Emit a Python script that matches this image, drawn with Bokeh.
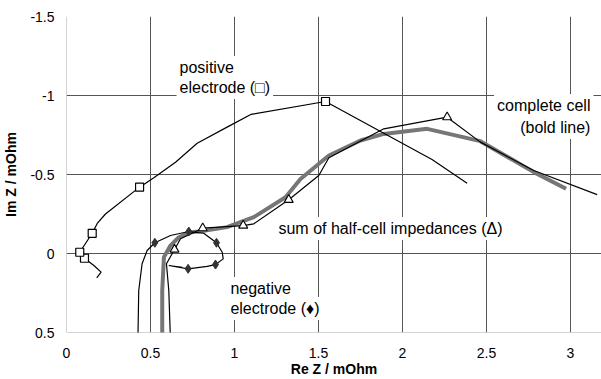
from bokeh.plotting import figure
from bokeh.models import Range1d, FixedTicker, Label, Span
from bokeh.embed import file_html
from bokeh.resources import INLINE

# ---- data ----
x_ticks = [0, 0.5, 1, 1.5, 2, 2.5, 3]
x_tick_labels = ["0", "0.5", "1", "1.5", "2", "2.5", "3"]
y_ticks = [-1.5, -1, -0.5, 0, 0.5]
y_tick_labels = ["-1.5", "-1", "-0.5", "0", "0.5"]

pos_x = [0.18, 0.206, 0.163, 0.107, 0.079, 0.153, 0.183, 0.232, 0.435, 0.52, 0.649, 0.778, 0.956, 1.097, 1.542, 2.176, 2.385]
pos_y = [0.154, 0.118, 0.076, 0.03, -0.008, -0.128, -0.19, -0.25, -0.42, -0.48, -0.578, -0.698, -0.80, -0.88, -0.962, -0.595, -0.445]
pos_mx = [0.107, 0.079, 0.153, 0.435, 1.542]
pos_my = [0.03, -0.008, -0.128, -0.42, -0.962]

neg_x = [0.425, 0.43, 0.45, 0.48, 0.526, 0.619, 0.728, 0.817, 0.893, 0.927, 0.933, 0.887, 0.837, 0.724, 0.609, 0.69]
neg_y = [0.55, 0.234, 0.065, -0.019, -0.068, -0.114, -0.139, -0.128, -0.068, -0.008, 0.034, 0.07, 0.082, 0.097, 0.076, 0.088]
neg_mx = [0.526, 0.728, 0.893, 0.887, 0.724]
neg_my = [-0.068, -0.139, -0.068, 0.07, 0.097]

sum_x = [0.619, 0.609, 0.595, 0.643, 0.679, 0.811, 1.052, 1.115, 1.323, 1.502, 1.562, 1.889, 2.266, 2.464, 2.782, 3.159]
sum_y = [0.55, 0.234, 0.065, -0.025, -0.093, -0.16, -0.177, -0.188, -0.34, -0.494, -0.606, -0.789, -0.863, -0.705, -0.525, -0.373]
sum_mx = [0.643, 0.811, 1.052, 1.323, 2.266]
sum_my = [-0.025, -0.16, -0.177, -0.34, -0.863]

cell_x = [0.57, 0.57, 0.58, 0.619, 0.669, 0.74, 0.798, 0.956, 1.115, 1.304, 1.393, 1.562, 1.75, 1.889, 2.147, 2.464, 2.782, 2.974]
cell_y = [0.55, 0.234, 0.023, -0.05, -0.103, -0.135, -0.14, -0.167, -0.23, -0.356, -0.472, -0.62, -0.715, -0.757, -0.789, -0.711, -0.515, -0.41]

FONT = "Liberation Sans"

p = figure(width=601, height=379, output_backend="svg", toolbar_location=None,
           x_range=Range1d(0, 3.185), y_range=Range1d(0.5, -1.5),
           min_border_left=66, min_border_right=0, min_border_top=16, min_border_bottom=46)
p.outline_line_color = None
p.background_fill_color = "white"

# grid
p.xgrid.ticker = FixedTicker(ticks=x_ticks[1:])
p.ygrid.ticker = FixedTicker(ticks=y_ticks[:-1])
p.xgrid.grid_line_color = "#555555"
p.ygrid.grid_line_color = "#555555"
p.add_layout(Span(location=x_ticks[0], dimension="height", line_color="#aaaaaa", line_width=1, level="underlay"))
p.add_layout(Span(location=y_ticks[-1], dimension="width", line_color="#aaaaaa", line_width=1, level="underlay"))

# axes
for ax, ticks, labels in ((p.xaxis[0], x_ticks, x_tick_labels), (p.yaxis[0], y_ticks, y_tick_labels)):
    ax.ticker = FixedTicker(ticks=ticks)
    ax.major_label_overrides = {t: l for t, l in zip(ticks, labels)}
    ax.axis_line_color = None
    ax.major_tick_line_color = None
    ax.minor_tick_line_color = None
    ax.major_label_text_font = FONT
    ax.major_label_text_font_size = "14px"
    ax.major_label_text_color = "black"
    ax.axis_label_text_font = FONT
    ax.axis_label_text_font_size = "14px"
    ax.axis_label_text_font_style = "bold"
    ax.axis_label_text_color = "black"

p.xaxis.axis_label = "Re Z / mOhm"
p.yaxis.axis_label = "Im Z / mOhm"
p.xaxis.major_label_standoff = 9
p.xaxis.axis_label_standoff = 0
p.yaxis.major_label_standoff = 6
p.yaxis.axis_label_standoff = 8

# curves
p.line(cell_x, cell_y, line_color="#767676", line_width=4)
p.line(pos_x, pos_y, line_color="black", line_width=1.2)
p.line(neg_x, neg_y, line_color="black", line_width=1.2)
p.line(sum_x, sum_y, line_color="black", line_width=1.2)
p.scatter(pos_mx, pos_my, marker="square", size=8, fill_color="white", line_color="black", line_width=1.2)
p.scatter(neg_mx, neg_my, marker="diamond", size=9, fill_color="#333333", line_color="#333333")
p.scatter(sum_mx, sum_my, marker="triangle", size=9, fill_color="white", line_color="black", line_width=1.1)

# annotations
def lab(x, y, text, align="left"):
    p.add_layout(Label(x=x, y=y, text=text, text_align=align, text_baseline="middle",
                       text_font=FONT, text_font_size="16px", text_color="black",
                       background_fill_color="white", padding=3))

lab(0.655, -1.177, "positive")
lab(0.655, -1.05, "electrode (\u25a1)")
lab(3.137, -0.937, "complete cell", "right")
lab(3.137, -0.797, "(bold line)", "right")
lab(1.244, -0.158, "sum of half-cell impedances (\u0394)")
lab(0.958, 0.222, "negative")
lab(0.958, 0.348, "electrode (\u2666)")

open("out.html", "w").write(file_html(p, INLINE))
